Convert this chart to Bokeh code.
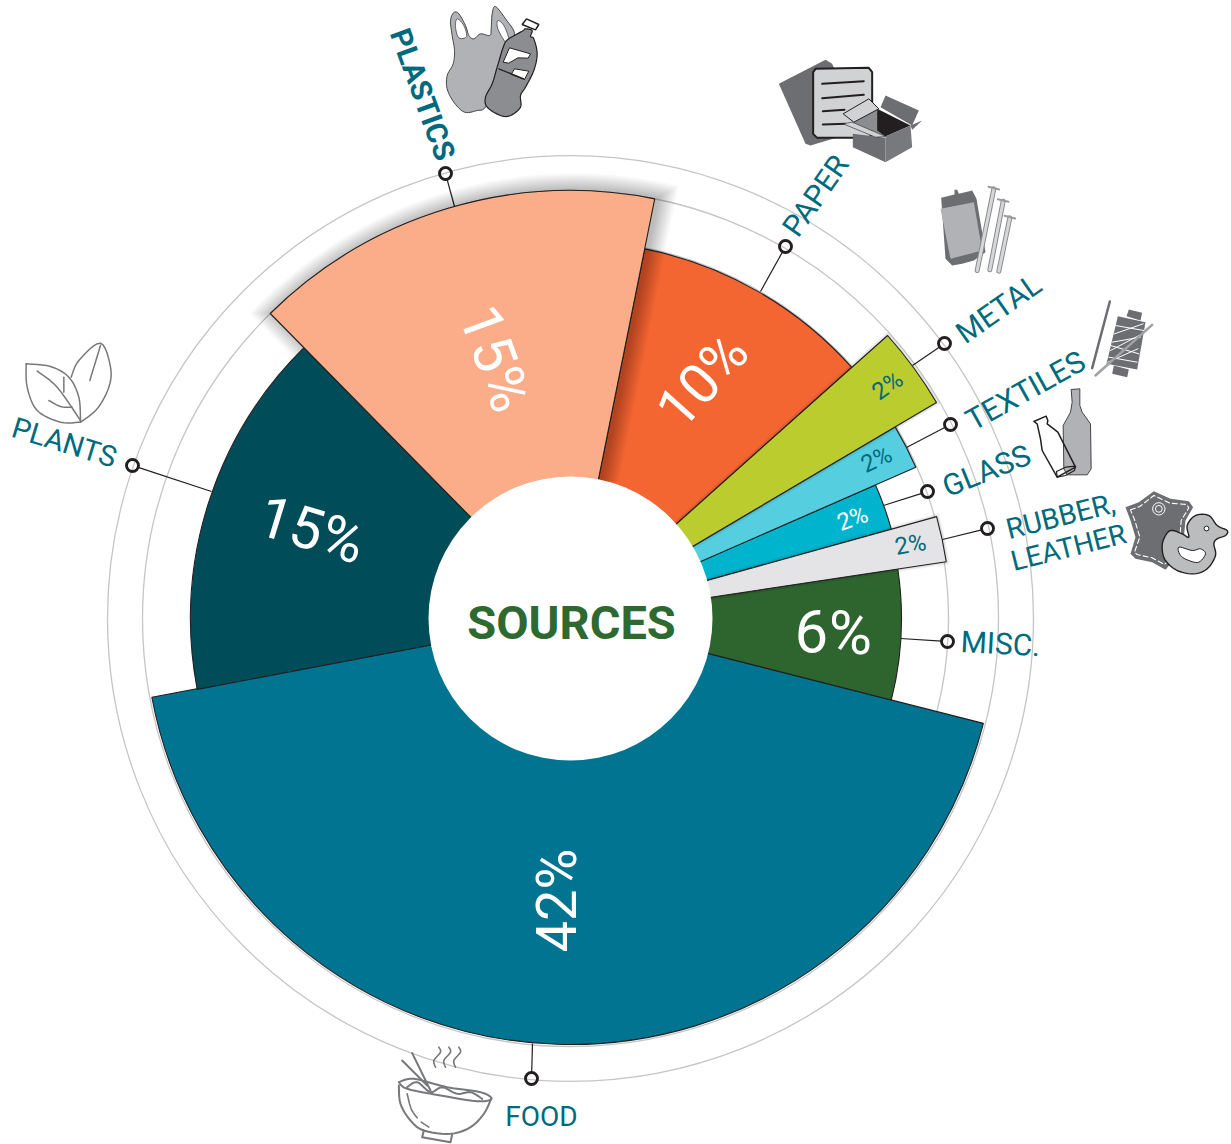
import math
from bokeh.plotting import figure, ColumnDataSource
from bokeh.models import Range1d
from bokeh.embed import file_html
from bokeh.resources import INLINE
from bokeh.core.properties import value

# ---- data (counter-clockwise from the plants/food seam)
categories = ["FOOD", "MISC.", "RUBBER, LEATHER", "GLASS", "TEXTILES", "METAL", "PAPER", "PLASTICS", "PLANTS"]
share_labels = ["42%", "6%", "2%", "2%", "2%", "2%", "10%", "15%", "15%"]
drawn_span_deg = [155.1, 22.85, 6.95, 8.1, 6.9, 11.2, 36.9, 55.9, 56.2]
reach = [426, 331, 380, 333, 377, 425, 377, 428, 380]
colors = ["#007490", "#2E652F", "#E4E4E6", "#00B4CD", "#55CFE0", "#BACC2E", "#F36531", "#FAAD88", "#004C59"]
START_DEG = 190.65
TITLE = "SOURCES"

W, H = 1231, 1144
CX, CY = 570, 618
HOLE = 142
RINGS = [463, 428, 378]
INK = "#231F20"
TEAL = "#006A7D"
G1, G2, G3, G4 = "#6D6E71", "#8C8D90", "#B1B2B6", "#D1D2D4"
REG = "Roboto"


def X(px):
    return px - CX


def Y(py):
    return CY - py


p = figure(width=W, height=H, output_backend="svg", toolbar_location=None,
           x_range=Range1d(X(0), X(W)), y_range=Range1d(Y(H), Y(0)),
           x_axis_location=None, y_axis_location=None, min_border=0, outline_line_color=None,
           background_fill_color="white", border_fill_color="white")
p.grid.visible = False

# rings
p.circle(x=[0, 0, 0], y=[0, 0, 0], radius=RINGS, fill_color=None, line_color="#C4C5C7", line_width=1.3)

# slice angles
starts, ends = [], []
a = START_DEG
for s in drawn_span_deg:
    starts.append(a)
    a += s
    ends.append(a)


def u(deg):
    return math.cos(math.radians(deg)), math.sin(math.radians(deg))


def shadow(idx, depth, alpha, ox=0.0, oy=0.0):
    a0, a1, r = starts[idx], ends[idx], reach[idx]
    for k in range(1, depth + 1):
        d0, d1 = u(a0), u(a1)
        n0 = (d0[1], -d0[0])
        n1 = (-d1[1], d1[0])
        da = math.degrees(math.asin(min(1, k / r)))
        xs, ys = [], []
        xs.append(HOLE * d0[0] + k * n0[0] + ox)
        ys.append(HOLE * d0[1] + k * n0[1] + oy)
        for i in range(41):
            t = a0 - da + (a1 - a0 + 2 * da) * i / 40
            xs.append((r + k) * u(t)[0] + ox)
            ys.append((r + k) * u(t)[1] + oy)
        xs.append(HOLE * d1[0] + k * n1[0] + ox)
        ys.append(HOLE * d1[1] + k * n1[1] + oy)
        p.patch(xs, ys, fill_color="#000000", fill_alpha=alpha, line_color=None)


def wedges(ix):
    src = ColumnDataSource(dict(
        r=[reach[i] for i in ix],
        s=[math.radians(starts[i]) for i in ix],
        e=[math.radians(ends[i]) for i in ix],
        c=[colors[i] for i in ix]))
    p.wedge(x=0, y=0, radius="r", start_angle="s", end_angle="e", fill_color="c",
            line_color=INK, line_width=1.1, source=src)


# leader lines (reference pixel anchors)
MARK_R = 6.0
leaders = [((445, 173), (454, 206)), ((785, 246), (760, 291)), ((944, 343), (912, 365)),
           ((950, 424), (906, 447)), ((927, 491), (883, 505)), ((987, 528), (942, 539)),
           ((947, 641), (900, 638)), ((531, 1078), (532, 1043)), ((132, 465), (211, 491))]
lx, ly = [], []
for m, e in leaders:
    L = math.hypot(e[0] - m[0], e[1] - m[1])
    sx = m[0] + (e[0] - m[0]) * MARK_R / L
    sy = m[1] + (e[1] - m[1]) * MARK_R / L
    lx.append([X(sx), X(e[0])])
    ly.append([Y(sy), Y(e[1])])
p.multi_line(lx, ly, line_color=INK, line_width=1.2)

wedges([0, 1, 3, 4, 6])
shadow(7, 17, 0.017, 3.5, 0.5)
wedges([8])
shadow(2, 3, 0.05)
shadow(5, 3, 0.05)
wedges([2, 5])
wedges([7])

# hole
p.circle(x=[0], y=[0], radius=[HOLE], fill_color="white", line_color=None)

# leader markers
p.circle(x=[X(m[0]) for m, e in leaders], y=[Y(m[1]) for m, e in leaders], radius=MARK_R,
         fill_color=None, line_color=INK, line_width=2.9)


def txt(s, px, py, size, color, deg=0, font=REG, style="normal"):
    p.text(x=[X(px)], y=[Y(py)], text=[s], angle=[math.radians(deg)], text_font=value(font),
           text_font_size=f"{size}px", text_color=color, text_align="center", text_baseline="middle",
           text_font_style=style)


txt(TITLE, 571, 622, 47, "#2E6A30", 0, REG, "bold")

# category labels
txt(categories[7], 422, 94, 29.5, TEAL, -70, REG, "bold")
txt(categories[6], 815, 195, 30, TEAL, 55)
txt(categories[5], 998, 308, 30, TEAL, 35)
txt(categories[4], 1025, 390, 30, TEAL, 29)
txt(categories[3], 986, 470, 30, TEAL, 22)
txt("RUBBER,", 1060, 516, 28.5, TEAL, 14)
txt("LEATHER", 1068, 547, 28, TEAL, 14)
txt(categories[1], 1000, 643, 30, TEAL, -3)
txt(categories[0], 541, 1116, 28, TEAL, 0)
txt(categories[8], 64, 442, 29, TEAL, -17)

# value labels
txt(share_labels[7], 495, 358, 58, "white", -70)
txt(share_labels[6], 702, 380, 56, "white", 48)
txt(share_labels[5], 887, 385, 24, TEAL, 35)
txt(share_labels[4], 876, 459, 24, TEAL, 25)
txt(share_labels[3], 852, 518, 24, "white", 20)
txt(share_labels[2], 910, 544, 24, TEAL, 10)
txt(share_labels[1], 833, 632, 60, "white", -2)
txt(share_labels[0], 556, 900, 56, "white", 90)
txt(share_labels[8], 311, 529, 58, "white", -17)


# ---- icons: decorative drawings traced in crop coordinates (3x zoom)
def crop(x0, y0, pts):
    return [(x0 + a / 3, y0 + b / 3) for a, b in pts]


def smooth(pts, closed=True, n=6):
    out = []
    m = len(pts)
    rng = range(m) if closed else range(m - 1)
    for i in rng:
        if closed:
            a, b, c, d = pts[i - 1], pts[i], pts[(i + 1) % m], pts[(i + 2) % m]
        else:
            a, b, c, d = pts[max(i - 1, 0)], pts[i], pts[i + 1], pts[min(i + 2, m - 1)]
        for j in range(n):
            t = j / n
            out.append(tuple(0.5 * (2 * b[q] + (c[q] - a[q]) * t + (2 * a[q] - 5 * b[q] + 4 * c[q] - d[q]) * t * t
                                    + (3 * b[q] - a[q] - 3 * c[q] + d[q]) * t ** 3) for q in (0, 1)))
    if not closed:
        out.append(pts[-1])
    return out


def shape(pts, fill, line=None, lw=1.0, curved=False):
    if curved:
        pts = smooth(pts)
    p.patch([X(a) for a, b in pts], [Y(b) for a, b in pts], fill_color=fill, line_color=line, line_width=lw)


def stroke(pts, color, lw=1.5, curved=False, closed=False, dash="solid"):
    if curved:
        pts = smooth(pts, closed)
    elif closed:
        pts = pts + pts[:1]
    p.line([X(a) for a, b in pts], [Y(b) for a, b in pts], line_color=color, line_width=lw, line_dash=dash,
           line_cap="round", line_join="round")


# plastics: bag and bottle
c = lambda pts: crop(440, 0, pts)
shape(c([(40, 36), (30, 60), (35, 105), (42, 150), (38, 190), (20, 225), (20, 265), (40, 305), (72, 335), (110, 330),
         (135, 320), (175, 250), (200, 150), (222, 100), (195, 55), (165, 18), (155, 40), (152, 85), (148, 105),
         (120, 100), (100, 115), (85, 105), (75, 75), (55, 40)]), G3, "#444447", 1, True)
shape(c([(50, 55), (45, 80), (55, 112), (78, 108), (70, 75)]), "white", "#444447", 0.8, True)
shape(c([(172, 60), (172, 85), (195, 125), (205, 115), (190, 75)]), "white", "#444447", 0.8, True)
shape(c([(255, 85), (275, 90), (270, 108), (280, 115), (290, 160), (280, 210), (255, 260), (240, 285), (240, 320),
         (210, 345), (180, 345), (140, 320), (135, 290), (155, 250), (170, 200), (190, 135), (205, 115),
         (245, 92)]), G2, INK, 1.2, True)
shape(c([(207, 142), (270, 160), (263, 173), (232, 172), (205, 188), (188, 185)]), "white", INK, 1)
shape(c([(222, 205), (265, 212), (252, 237), (212, 222)]), "white", INK, 1)
stroke(c([(175, 205), (250, 235)]), INK, 1.2)
shape(c([(245, 72), (258, 55), (295, 72), (285, 88)]), "white", INK, 1.5)

# paper: sheets and box
c = lambda pts: crop(770, 50, pts)
shape(c([(25, 100), (165, 28), (185, 40), (270, 240), (120, 285), (105, 280)]), G1)
shape(c([(128, 65), (135, 55), (295, 52), (305, 65), (305, 250), (295, 262), (140, 262), (128, 250)]), G4, INK, 2)
for seg in [[(155, 100), (280, 92)], [(155, 143), (280, 133)], [(157, 182), (222, 178)], [(157, 222), (225, 220)]]:
    stroke(c(seg), INK, 2)
shape(c([(330, 170), (345, 135), (445, 180), (425, 225)]), G1)
shape(c([(320, 175), (245, 215), (345, 258)]), G2)
shape(c([(320, 175), (420, 225), (345, 258), (320, 240)]), INK)
shape(c([(247, 250), (345, 262), (345, 335), (247, 290)]), G1)
shape(c([(345, 258), (420, 225), (425, 290), (345, 335)]), "#78797C")
shape(c([(420, 225), (455, 210), (425, 238)]), G1)
shape(c([(218, 190), (295, 145), (325, 175), (250, 215)]), G4, INK, 1)
shape(c([(218, 220), (245, 215), (345, 258), (315, 260)]), G4, INK, 0.6)

# metal: can and nails
c = lambda pts: crop(930, 180, pts)
shape(c([(32, 52), (72, 42), (72, 28), (80, 28), (85, 40), (125, 30), (138, 55), (165, 215), (130, 240), (95, 250),
         (65, 255), (45, 235)]), G1)
shape(c([(30, 85), (130, 65), (155, 210), (60, 235)]), G3)
for top, tip in [((190, 25), (140, 270)), ((218, 62), (178, 268)), ((238, 112), (205, 272))]:
    stroke(c([top, tip]), "#8A8B8E", 5)
    stroke(c([top, tip]), "#D6D7D9", 3)
    stroke(c([(top[0] - 16, top[1] - 6), (top[0] + 16, top[1] + 2)]), "#9A9B9E", 2)

# textiles: spool and needles
c = lambda pts: crop(1030, 295, pts)
shape(c([(295, 42), (335, 52), (330, 75), (288, 62)]), G1)
shape(c([(250, 210), (295, 222), (290, 245), (245, 235)]), G1)
shape(c([(262, 62), (345, 80), (320, 222), (228, 205)]), G1)
for seg in [[(255, 90), (340, 105)], [(252, 115), (338, 85)], [(245, 140), (330, 125)], [(240, 165), (335, 115)],
            [(235, 185), (320, 200)], [(240, 150), (325, 175)], [(232, 200), (322, 160)]]:
    stroke(c(seg), "white", 1)
stroke(c([(238, 18), (185, 218)]), G1, 2.5)
stroke(c([(365, 88), (195, 240)]), "#A0A1A4", 2.5)

# glass: bottles
c = lambda pts: crop(1030, 295, pts)
shape(c([(122, 282), (148, 280), (148, 330), (155, 350), (180, 385), (182, 520), (170, 538), (110, 538), (100, 520),
         (98, 390), (120, 350), (125, 320)]), G3, "#444447", 1)
stroke(c([(10, 378), (47, 362), (52, 375), (50, 385), (82, 410), (135, 515), (80, 545), (35, 465), (30, 430),
          (20, 385)]), INK, 1.5, closed=True)
stroke(c([(78, 528), (105, 515), (135, 512), (132, 525), (105, 540), (80, 545), (78, 528)]), INK, 1.2)

# rubber, leather: hide and duck
c = lambda pts: crop(1120, 480, pts)
shape(c([(15, 80), (55, 65), (100, 32), (150, 55), (205, 62), (218, 80), (195, 120), (190, 170), (205, 190),
         (150, 250), (135, 268), (95, 245), (45, 235), (30, 220), (45, 170), (30, 120)]), G1)
stroke(c([(30, 88), (58, 78), (100, 45), (148, 68), (198, 72), (205, 82), (182, 120), (178, 170), (190, 188),
          (145, 240), (132, 252), (95, 232), (50, 222), (42, 215), (58, 170), (43, 120)]), "white", 1.1, closed=True,
       dash="5 3")
p.circle(x=[X(1120 + 115 / 3)], y=[Y(480 + 85 / 3)], radius=[6.2], fill_color=None, line_color="white", line_width=1)
p.circle(x=[X(1120 + 115 / 3)], y=[Y(480 + 85 / 3)], radius=[3.4], fill_color=None, line_color="white", line_width=1)
shape(c([(130, 175), (150, 150), (185, 160), (205, 170), (200, 135), (225, 105), (265, 105), (290, 135), (320, 150),
         (315, 165), (290, 175), (280, 190), (285, 225), (260, 265), (220, 280), (170, 270), (135, 240),
         (125, 205)]), "#BBBCBE", INK, 1.4, True)
shape(c([(175, 200), (215, 210), (240, 205), (255, 220), (235, 245), (205, 240), (180, 225)]), "white", INK, 1, True)
p.circle(x=[X(1120 + 258 / 3)], y=[Y(480 + 144 / 3)], radius=[2.4], fill_color="white", line_color=INK, line_width=1)

# plants: leaves
c = lambda pts: crop(0, 330, pts)
GL = "#77787B"
stroke(smooth([(77, 100), (150, 108), (205, 140), (235, 200), (240, 275)], False), GL, 1.5) if False else None
stroke(c(smooth([(77, 100), (150, 108), (205, 140), (235, 200), (240, 275)], False)), GL, 1.5)
stroke(c(smooth([(240, 275), (180, 275), (110, 240), (80, 170), (77, 100)], False)), GL, 1.5)
stroke(c([(212, 140), (235, 90), (300, 38), (330, 110), (325, 170), (290, 235), (240, 275)]), GL, 1.5, True)
stroke(c([(110, 122), (170, 170), (240, 270)]), GL, 1.5, True)
stroke(c([(190, 140), (190, 185)]), GL, 1.5)
stroke(c([(145, 210), (180, 228), (215, 230)]), GL, 1.5, True)
stroke(c([(300, 45), (268, 150)]), GL, 1.5)

# food: bowl
c = lambda pts: crop(380, 1030, pts)
stroke(c([(55, 155), (100, 145), (200, 170), (300, 185), (333, 205), (290, 212), (180, 195), (80, 175), (55, 155)]), GL, 2, True)
stroke(c([(55, 165), (60, 220), (90, 270), (130, 300), (210, 310), (270, 290), (310, 250), (332, 205)]), GL, 2, True)
stroke(c([(130, 300), (125, 320), (210, 335), (215, 312)]), GL, 2)
stroke(c([(95, 68), (150, 180)]), GL, 2)
stroke(c([(65, 90), (140, 165)]), GL, 2)
stroke(c([(80, 170), (110, 155), (150, 185), (185, 170), (230, 190), (270, 185), (305, 205)]), GL, 2, True)
stroke(c([(80, 190), (92, 235), (110, 262)]), GL, 1.6, True)
stroke(c([(122, 275), (145, 290)]), GL, 1.6)
for dx in [0, 30, 60]:
    stroke(c([(175 + dx, 50), (180 + dx, 65), (160 + dx, 90), (165 + dx, 110)]), GL, 1.6, True)

open("out.html", "w").write(file_html(p, INLINE))
